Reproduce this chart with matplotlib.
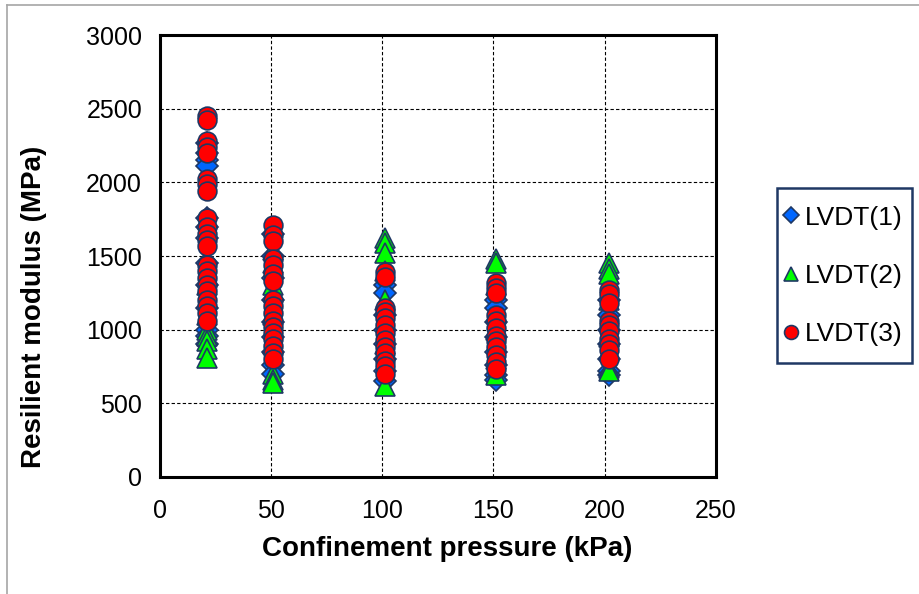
import matplotlib
matplotlib.use('Agg')
import matplotlib.pyplot as plt
from matplotlib.patches import Rectangle
from matplotlib.lines import Line2D

plt.rcParams['font.family'] = ['Liberation Sans', 'DejaVu Sans']

# confinement pressure of each loading stage (kPa)
pressure = [21, 51, 101, 151, 202]

# resilient modulus readings (MPa) per stage, one list per LVDT
lvdt1 = [
    [2270, 2200, 2150, 2110, 1760, 1700, 1620, 1450, 1300, 1150, 1000, 960, 900],
    [1650, 1500, 1350, 1200, 1050, 950, 850, 760, 700],
    [1300, 1250, 1100, 1000, 900, 800, 720, 650],
    [1200, 1150, 1050, 950, 850, 760, 690, 660],
    [1200, 1100, 1000, 900, 800, 720, 690],
]
lvdt2 = [
    [1300, 1100, 1000, 960, 920, 870, 810],
    [1540, 1450, 1300, 1100, 900, 700, 660, 640],
    [1620, 1590, 1520, 1400, 1200, 900, 620],
    [1480, 1450, 1300, 1000, 800, 690],
    [1450, 1410, 1380, 1200, 950, 740, 720],
]
lvdt3 = [
    [2450, 2420, 2280, 2240, 2200, 2020, 1990, 1940, 1760, 1700, 1650, 1610,
     1570, 1440, 1400, 1350, 1300, 1260, 1200, 1160, 1110, 1060],
    [1710, 1640, 1600, 1480, 1440, 1380, 1330, 1200, 1160, 1110, 1060, 1020,
     980, 940, 890, 840, 800],
    [1390, 1360, 1150, 1120, 1080, 1030, 980, 930, 880, 840, 790, 750, 700],
    [1320, 1280, 1250, 1100, 1060, 1010, 960, 920, 880, 830, 780, 730],
    [1270, 1240, 1180, 1060, 1030, 990, 940, 900, 860, 800],
]

EDGE = '#1F3864'
series = [
    ('LVDT(1)', lvdt1, 'D', '#0066FF', 11, 8),
    ('LVDT(2)', lvdt2, '^', '#00FF00', 14, 10),
    ('LVDT(3)', lvdt3, 'o', '#FF0000', 13.5, 10),
]

fig = plt.figure(figsize=(9.2, 5.94), dpi=100)
ax = fig.add_axes([0.174, 0.197, 0.604, 0.744])

for label, data, marker, color, ms, _ in series:
    xs, ys = [], []
    for p, vals in zip(pressure, data):
        xs += [p] * len(vals)
        ys += vals
    ax.plot(xs, ys, ls='none', marker=marker, ms=ms, mfc=color, mec=EDGE,
            mew=1.2, label=label, zorder=3)

ax.set_xlim(0, 250)
ax.set_ylim(0, 3000)
ax.set_xticks(range(0, 251, 50))
ax.set_yticks(range(0, 3001, 500))
ax.tick_params(axis='x', labelsize=18, length=0, pad=16)
ax.tick_params(axis='y', labelsize=18, length=0, pad=13)
ax.grid(True, ls=(0, (3, 2)), color='black', lw=0.8)
for s in ax.spines.values():
    s.set_color('black')
    s.set_linewidth(2.2)

ax.set_xlabel('Confinement pressure (kPa)', fontsize=20, fontweight='bold')
ax.set_ylabel('Resilient modulus (MPa)', fontsize=20, fontweight='bold')
ax.xaxis.set_label_coords(0.516, -0.133)
ax.yaxis.set_label_coords(-0.203, 0.385)

# legend box drawn separately so its padding can differ per side
fig.patches.append(Rectangle((777 / 920, 1 - 363 / 594), 135 / 920, 175 / 594,
                             transform=fig.transFigure, fill=False,
                             edgecolor=EDGE, lw=1.8))
leg = ax.legend(loc='center left', bbox_to_anchor=(780 / 920, 1 - 276 / 594),
                bbox_transform=fig.transFigure, fontsize=19, frameon=False,
                labelspacing=1.3, handlelength=0.6, handletextpad=0.25,
                borderpad=0.1, borderaxespad=0)
for h, s in zip(leg.legend_handles, series):
    h.set_markersize(s[5])

# chart area outline (top and left edges)
fig.add_artist(Line2D([7 / 920, 1], [1 - 5 / 594] * 2, transform=fig.transFigure,
                      color='#A6A6A6', lw=1.2))
fig.add_artist(Line2D([7 / 920] * 2, [0, 1 - 5 / 594], transform=fig.transFigure,
                      color='#A6A6A6', lw=1.2))

fig.savefig('out.png', dpi=100, facecolor='white')
